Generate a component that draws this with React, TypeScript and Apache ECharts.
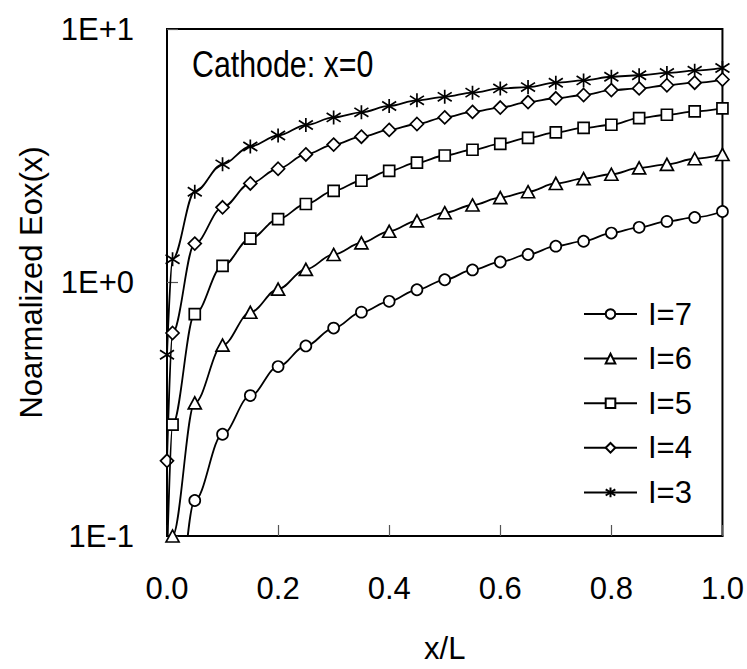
import React, { useEffect, useRef } from "react";
import * as echarts from "echarts";

const xValues = [0, 0.01, 0.05, 0.1, 0.15, 0.2, 0.25, 0.3, 0.35, 0.4, 0.45, 0.5, 0.55, 0.6, 0.65, 0.7, 0.75, 0.8, 0.85, 0.9, 0.95, 1.0];
const seriesNames = ["I=7", "I=6", "I=5", "I=4", "I=3"];
const valuesI7 = [0.005, 0.035, 0.138, 0.252, 0.358, 0.466, 0.562, 0.661, 0.764, 0.843, 0.936, 1.025, 1.121, 1.205, 1.29, 1.391, 1.455, 1.567, 1.651, 1.742, 1.806, 1.906];
const valuesI6 = [0.05, 0.1, 0.335, 0.566, 0.763, 0.942, 1.127, 1.29, 1.433, 1.592, 1.751, 1.885, 2.022, 2.162, 2.281, 2.459, 2.57, 2.673, 2.832, 2.925, 3.077, 3.2];
const valuesI5 = [0.08, 0.275, 0.75, 1.162, 1.49, 1.778, 2.04, 2.3, 2.52, 2.755, 2.97, 3.17, 3.34, 3.52, 3.72, 3.91, 4.07, 4.19, 4.45, 4.59, 4.73, 4.86];
const valuesI4 = [0.198, 0.632, 1.424, 1.98, 2.459, 2.81, 3.2, 3.5, 3.76, 4.0, 4.22, 4.48, 4.71, 4.9, 5.15, 5.33, 5.49, 5.74, 5.83, 6.0, 6.14, 6.32];
const valuesI3 = [0.519, 1.235, 2.28, 2.925, 3.44, 3.8, 4.18, 4.48, 4.69, 4.97, 5.23, 5.4, 5.61, 5.83, 5.9, 6.14, 6.27, 6.48, 6.57, 6.71, 6.85, 7.02];
const yTickLabels = ["1E-1", "1E+0", "1E+1"];
const xAxisTitle = "x/L";
const yAxisTitle = "Noarmalized Eox(x)";
const annotation = "Cathode: x=0";

const FONT = "'Liberation Sans', Arial, sans-serif";
const STAR = "path://M5,0 L5,10 M1.2,1.8 L8.8,8.2 M8.8,1.8 L1.2,8.2";

const seriesValues = [valuesI7, valuesI6, valuesI5, valuesI4, valuesI3];
const symbols = ["circle", "triangle", "rect", "diamond", STAR];
const symbolSizes: any[] = [11, [13, 12], 11, [13, 13], 14];

export default function App() {
  const ref = useRef<HTMLDivElement>(null);
  useEffect(() => {
    if (!ref.current) return;
    const chart = echarts.init(ref.current, undefined, { renderer: "svg" });
    chart.setOption({
      animation: false,
      backgroundColor: "#fff",
      textStyle: { fontFamily: FONT, color: "#000" },
      grid: {
        left: 167,
        top: 29,
        right: 21,
        bottom: 128,
        show: true,
        borderColor: "#000",
        borderWidth: 2,
        backgroundColor: "transparent",
      },
      legend: {
        orient: "vertical",
        left: 578,
        top: 292,
        itemWidth: 53,
        itemHeight: 12,
        itemGap: 10.6,
        data: seriesNames,
        textStyle: { fontFamily: FONT, fontSize: 31, color: "#000", lineHeight: 34, padding: [0, 0, 0, 6] },
      },
      xAxis: {
        type: "value",
        min: 0,
        max: 1,
        interval: 0.2,
        name: xAxisTitle,
        nameLocation: "middle",
        nameGap: 97,
        nameTextStyle: { fontFamily: FONT, fontSize: 31, color: "#000" },
        axisLine: { show: true, lineStyle: { color: "#000", width: 2 } },
        axisTick: { show: true, inside: true, length: 11, lineStyle: { color: "#555", width: 1.2 } },
        axisLabel: {
          margin: 37,
          fontFamily: FONT,
          fontSize: 31,
          color: "#000",
          formatter: (v: number) => v.toFixed(1),
        },
        splitLine: { show: false },
      },
      yAxis: {
        type: "log",
        logBase: 10,
        min: 0.1,
        max: 10,
        name: yAxisTitle,
        nameLocation: "middle",
        nameGap: 120,
        nameTextStyle: { fontFamily: FONT, fontSize: 31, color: "#000" },
        axisLine: { show: true, lineStyle: { color: "#000", width: 2 } },
        axisTick: { show: true, inside: true, length: 11, lineStyle: { color: "#555", width: 1.2 } },
        minorTick: { show: false },
        axisLabel: {
          margin: 33,
          fontFamily: FONT,
          fontSize: 31,
          color: "#000",
          formatter: (v: number) => yTickLabels[Math.round(Math.log10(v)) + 1] ?? "",
        },
        splitLine: { show: false },
      },
      graphic: [
        {
          type: "text",
          x: 192,
          y: 45,
          scaleX: 0.82,
          style: { text: annotation, fontFamily: FONT, fontSize: 37, fill: "#000", verticalAlign: "top", align: "left" },
        },
      ],
      series: seriesNames.map((name, i) => ({
        name,
        type: "line",
        data: xValues.map((x, j) => [x, seriesValues[i][j]]),
        smooth: 0.35,
        smoothMonotone: "x",
        clip: true,
        symbol: symbols[i],
        symbolSize: symbolSizes[i],
        showAllSymbol: true,
        lineStyle: { color: "#000", width: 1.8 },
        itemStyle: { color: "#fff", borderColor: "#000", borderWidth: 1.7 },
        emphasis: { disabled: true },
        z: 10 - i,
      })),
    });
    return () => chart.dispose();
  }, []);
  return <div ref={ref} style={{ position: "fixed", left: 0, top: 0, width: 747, height: 669 }} />;
}
